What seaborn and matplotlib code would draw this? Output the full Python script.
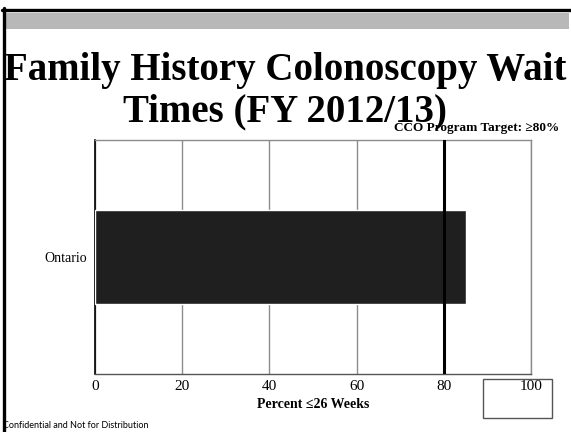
import matplotlib
matplotlib.use("Agg")
import matplotlib.pyplot as plt
import seaborn as sns
import pandas as pd
from matplotlib.patches import Rectangle
from matplotlib.lines import Line2D

# data
regions = ["Ontario"]
pct_within_26wk = [85.1]
target = 80
x_ticks = [0, 20, 40, 60, 80, 100]

W, H = 571, 432
df = pd.DataFrame({"region": regions, "pct": pct_within_26wk})

sns.set_style("white")
plt.rcParams["font.family"] = ["Liberation Serif", "DejaVu Serif"]
plt.rcParams.update({"text.color": "black", "axes.labelcolor": "black",
                     "xtick.color": "black", "ytick.color": "black"})

fig = plt.figure(figsize=(W / 100, H / 100), dpi=100)

def fx(px):
    return px / W

def fy(py):
    return 1 - py / H

# slide decoration: frame and grey band
fig.add_artist(Line2D([fx(2), 1], [fy(9.5), fy(9.5)], color="black", lw=2.4))
fig.add_artist(Line2D([fx(3.5), fx(3.5)], [fy(8), 0], color="black", lw=2.4))
fig.add_artist(Rectangle((fx(6), fy(29)), fx(563), 16 / H, color="#b8b8b8", lw=0))

# title
fig.text(fx(285), fy(80), "Family History Colonoscopy Wait", ha="center", va="baseline",
         fontsize=28, fontweight="bold")
fig.text(fx(285), fy(121), "Times (FY 2012/13)", ha="center", va="baseline",
         fontsize=28, fontweight="bold")
fig.text(fx(559), fy(131), "CCO Program Target: \u226580%", ha="right", va="baseline",
         fontsize=9.5, fontweight="bold")

ax = fig.add_axes([fx(95), fy(374), fx(531 - 95), (374 - 140) / H])
sns.barplot(data=df, x="pct", y="region", orient="h", color="#1f1f1f",
            saturation=1, width=0.4, ax=ax, zorder=3)
ax.axvline(target, color="black", lw=2.2, zorder=4)

ax.set_xlim(0, 100)
ax.set_xticks(x_ticks)
ax.grid(axis="x", color="#8c8c8c", lw=1, zorder=0)
ax.grid(axis="y", visible=False)
ax.tick_params(axis="both", length=0, labelsize=11)
ax.tick_params(axis="x", pad=4)
ax.tick_params(axis="y", labelsize=10, pad=6)
ax.set_ylabel("")
ax.set_xlabel("Percent \u226426 Weeks", fontsize=10, fontweight="bold", labelpad=4)

for side in ["top", "right", "bottom"]:
    ax.spines[side].set_color("#8c8c8c")
    ax.spines[side].set_linewidth(1)
ax.spines["left"].set_color("black")
ax.spines["left"].set_linewidth(1.2)
ax.spines["bottom"].set_color("#555555")

# empty box at bottom right
fig.add_artist(Rectangle((fx(483), fy(418)), fx(69), 39 / H, fill=False,
                         edgecolor="#555555", lw=1))

fig.text(fx(3), fy(428), "Confidential and Not for Distribution", ha="left", va="baseline",
         fontsize=6.5, family=["Lato", "DejaVu Sans"])

fig.savefig("out.png", dpi=100)
